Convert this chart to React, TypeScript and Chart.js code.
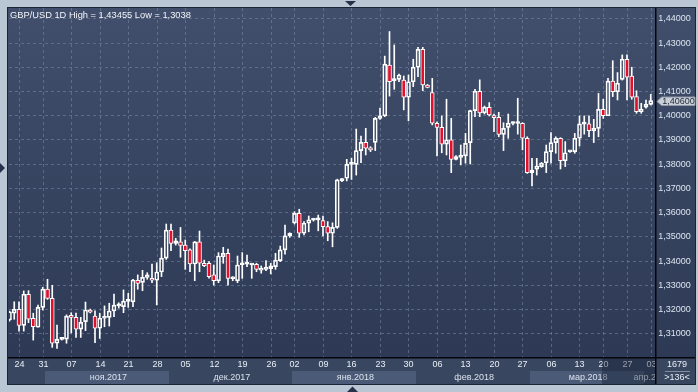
import React, { useEffect, useRef } from "react";
import { Chart, registerables } from "chart.js";

Chart.register(...registerables);

// ---- data (daily GBP/USD candles, left to right) ----
const opens = [
  1.3155, 1.3183, 1.3199, 1.3133, 1.3261, 1.3162, 1.3125, 1.3207, 1.3282, 1.3244,
  1.3059, 1.3075, 1.3076, 1.3174, 1.3166, 1.3117, 1.3148, 1.3196, 1.3171, 1.3121,
  1.3162, 1.3166, 1.3192, 1.3213, 1.3210, 1.3232, 1.3230, 1.3319, 1.3310, 1.3331,
  1.3327, 1.3319, 1.3353, 1.3410, 1.3526, 1.3471, 1.3477, 1.3464, 1.3444, 1.3386,
  1.3477, 1.3389, 1.3389, 1.3341, 1.3317, 1.3416, 1.3430, 1.3325, 1.3317, 1.3383,
  1.3385, 1.3382, 1.3385, 1.3361, 1.3364, 1.3367, 1.3375, 1.3400, 1.3444, 1.3502,
  1.3556, 1.3595, 1.3513, 1.3554, 1.3567, 1.3568, 1.3565, 1.3540, 1.3513, 1.3537,
  1.3730, 1.3740, 1.3797, 1.3797, 1.3854, 1.3888, 1.3864, 1.3888, 1.3987, 1.3997,
  1.4207, 1.4143, 1.4148, 1.4145, 1.4074, 1.4138, 1.4198, 1.4272, 1.4124, 1.4093,
  1.3967, 1.3950, 1.3881, 1.3898, 1.3818, 1.3826, 1.3832, 1.3887, 1.4019, 1.4099,
  1.4010, 1.4033, 1.3998, 1.3991, 1.3921, 1.3950, 1.3966, 1.3966, 1.3967, 1.3905,
  1.3763, 1.3777, 1.3788, 1.3804, 1.3850, 1.3887, 1.3905, 1.3812, 1.3849, 1.3850,
  1.3905, 1.3963, 1.3964, 1.3936, 1.3946, 1.4024, 1.3998, 1.4141, 1.4097, 1.4148,
  1.4231, 1.4162, 1.4077, 1.4015, 1.4033, 1.4045,
];
const highs = [
  1.3192, 1.3230, 1.3230, 1.3275, 1.3276, 1.3183, 1.3216, 1.3290, 1.3323, 1.3298,
  1.3134, 1.3080, 1.3176, 1.3185, 1.3183, 1.3166, 1.3229, 1.3200, 1.3193, 1.3183,
  1.3213, 1.3224, 1.3262, 1.3226, 1.3279, 1.3265, 1.3323, 1.3341, 1.3360, 1.3350,
  1.3386, 1.3391, 1.3452, 1.3551, 1.3551, 1.3492, 1.3537, 1.3485, 1.3449, 1.3479,
  1.3522, 1.3402, 1.3396, 1.3382, 1.3433, 1.3455, 1.3448, 1.3334, 1.3419, 1.3433,
  1.3423, 1.3386, 1.3389, 1.3378, 1.3400, 1.3389, 1.3430, 1.3460, 1.3547, 1.3515,
  1.3602, 1.3612, 1.3561, 1.3584, 1.3573, 1.3588, 1.3584, 1.3561, 1.3556, 1.3736,
  1.3740, 1.3818, 1.3823, 1.3943, 1.3914, 1.3946, 1.3870, 1.3991, 1.4029, 1.4244,
  1.43455, 1.4290, 1.4170, 1.4162, 1.4166, 1.4231, 1.4280, 1.4280, 1.4127, 1.4152,
  1.3973, 1.3997, 1.4066, 1.3987, 1.3833, 1.3877, 1.3925, 1.4021, 1.4107, 1.4146,
  1.4038, 1.4052, 1.4005, 1.4012, 1.3969, 1.4005, 1.3973, 1.4070, 1.3969, 1.3911,
  1.3822, 1.3822, 1.3805, 1.3877, 1.3928, 1.3911, 1.3907, 1.3891, 1.3853, 1.3925,
  1.3997, 1.3997, 1.3997, 1.3983, 1.4090, 1.4066, 1.4152, 1.4225, 1.4176, 1.4249,
  1.4249, 1.4198, 1.4101, 1.4049, 1.4063, 1.4086,
];
const lows = [
  1.3150, 1.3158, 1.3109, 1.3109, 1.3144, 1.3072, 1.3125, 1.3196, 1.3240, 1.3042,
  1.3038, 1.3072, 1.3059, 1.3102, 1.3083, 1.3083, 1.3111, 1.3184, 1.3061, 1.3079,
  1.3127, 1.3130, 1.3169, 1.3204, 1.3185, 1.3207, 1.3210, 1.3282, 1.3276, 1.3323,
  1.3309, 1.3217, 1.3334, 1.3405, 1.3441, 1.3464, 1.3414, 1.3364, 1.3354, 1.3317,
  1.3354, 1.3375, 1.3328, 1.3299, 1.3309, 1.3389, 1.3299, 1.3317, 1.3309, 1.3327,
  1.3375, 1.3327, 1.3354, 1.3348, 1.3358, 1.3345, 1.3364, 1.3396, 1.3427, 1.3496,
  1.3551, 1.3496, 1.3506, 1.3519, 1.3563, 1.3523, 1.3502, 1.3482, 1.3457, 1.3533,
  1.3726, 1.3729, 1.3735, 1.3753, 1.3804, 1.3836, 1.3850, 1.3854, 1.3983, 1.3994,
  1.4079, 1.4107, 1.4138, 1.4022, 1.3977, 1.4118, 1.4159, 1.4101, 1.4113, 1.3960,
  1.3832, 1.3845, 1.3836, 1.3763, 1.3816, 1.3795, 1.3802, 1.3799, 1.3994, 1.3994,
  1.4005, 1.3997, 1.3932, 1.3911, 1.3854, 1.3905, 1.3960, 1.3922, 1.3857, 1.3760,
  1.3708, 1.3753, 1.3785, 1.3763, 1.3802, 1.3843, 1.3778, 1.3788, 1.3847, 1.3843,
  1.3873, 1.3922, 1.3911, 1.3887, 1.3911, 1.3987, 1.3998, 1.4077, 1.4063, 1.4145,
  1.4063, 1.4066, 1.4008, 1.4008, 1.4029, 1.4042,
];
const closes = [
  1.3189, 1.3199, 1.3133, 1.3261, 1.3158, 1.3127, 1.3207, 1.3282, 1.3244, 1.3059,
  1.3075, 1.3077, 1.3171, 1.3166, 1.3117, 1.3145, 1.3196, 1.3187, 1.3121, 1.3162,
  1.3166, 1.3192, 1.3216, 1.3216, 1.3233, 1.3234, 1.3320, 1.3306, 1.3331, 1.3341,
  1.3319, 1.3353, 1.3410, 1.3526, 1.3471, 1.3482, 1.3463, 1.3441, 1.3386, 1.3477,
  1.3389, 1.3379, 1.3334, 1.3317, 1.3419, 1.3430, 1.3327, 1.3331, 1.3382, 1.3386,
  1.3387, 1.3385, 1.3364, 1.3367, 1.3368, 1.3378, 1.3402, 1.3444, 1.3502, 1.3513,
  1.3595, 1.3513, 1.3554, 1.3568, 1.3569, 1.3569, 1.3540, 1.3513, 1.3537, 1.3733,
  1.3732, 1.3797, 1.3799, 1.3854, 1.3888, 1.3864, 1.3857, 1.3987, 1.3997, 1.4211,
  1.4138, 1.4145, 1.4166, 1.4074, 1.4138, 1.4198, 1.4272, 1.4125, 1.4115, 1.3967,
  1.3950, 1.3881, 1.3898, 1.3818, 1.3829, 1.3836, 1.3884, 1.4019, 1.4099, 1.4010,
  1.4033, 1.4001, 1.3990, 1.3921, 1.3946, 1.3967, 1.3968, 1.3968, 1.3905, 1.3763,
  1.3774, 1.3790, 1.3802, 1.3850, 1.3887, 1.3905, 1.3812, 1.3845, 1.3851, 1.3905,
  1.3964, 1.3965, 1.3936, 1.3946, 1.4024, 1.3998, 1.4141, 1.4097, 1.4132, 1.4231,
  1.4157, 1.4074, 1.4015, 1.4024, 1.4045, 1.4060,
];

const dayTickBars = [2, 7, 13, 19, 25, 31, 37, 43, 49, 55, 60, 66, 72, 78, 84, 90, 96, 102, 108, 114, 120, 125, 130, 135];
const dayTickLabels = ["24", "31", "07", "14", "21", "28", "05", "12", "19", "26", "02", "09", "16", "23", "30", "06", "13", "20", "27", "06", "13", "20", "27", "03"];
const monthStartBars = [8, 34, 60, 86, 110, 134];
const monthLabels = ["ноя.2017", "дек.2017", "янв.2018", "фев.2018", "мар.2018", "апр.2018"];
const priceTicks = [1.31, 1.32, 1.33, 1.34, 1.35, 1.36, 1.37, 1.38, 1.39, 1.4, 1.41, 1.42, 1.43, 1.44];
const titleText = "GBP/USD 1D High = 1,43455 Low = 1,3038";
const lastPrice = 1.406;
const barsTotalText = "1679";
const barsVisibleText = ">136<";

const FONT = '"Liberation Sans", Arial, sans-serif';
const fmt = (v: number) => v.toFixed(5).replace(".", ",");

const chromePlugin = {
  id: "chrome",
  beforeDraw(chart: any) {
    const ctx = chart.ctx as CanvasRenderingContext2D;
    const { left, right, top, bottom } = chart.chartArea;
    const xs = chart.scales.x;
    const ys = chart.scales.y;
    const W = chart.width;
    const H = chart.height;
    ctx.save();
    // outer frame
    ctx.fillStyle = "#b9c6d4";
    ctx.fillRect(0, 0, W, H);
    // dark panel with vertical gradient
    const g = ctx.createLinearGradient(0, 7, 0, 385);
    g.addColorStop(0, "#414f6c");
    g.addColorStop(1, "#2c3853");
    ctx.fillStyle = g;
    ctx.fillRect(7, 7, 689, 378);
    ctx.strokeStyle = "#1c2537";
    ctx.lineWidth = 1;
    ctx.strokeRect(7.5, 7.5, 688, 377);

    // x-axis band
    ctx.fillStyle = "#38465f";
    ctx.fillRect(8, bottom + 1, W - 8 - 3, 384 - bottom - 1);
    // month boxes (alternating)
    for (let m = 0; m < monthStartBars.length; m++) {
      const x0 = Math.max(left, xs.getPixelForValue(monthStartBars[m] - 0.5));
      const x1 = m + 1 < monthStartBars.length ? xs.getPixelForValue(monthStartBars[m + 1] - 0.5) : right;
      if (m % 2 === 0) {
        ctx.fillStyle = "#4a5a77";
        ctx.fillRect(Math.round(x0), 371, Math.round(x1) - Math.round(x0), 13);
      }
    }

    // grid
    ctx.strokeStyle = "rgba(122,138,166,0.55)";
    ctx.lineWidth = 1;
    ctx.setLineDash([3, 3]);
    ctx.beginPath();
    for (const v of priceTicks) {
      const y = Math.round(ys.getPixelForValue(v)) + 0.5;
      ctx.moveTo(left, y);
      ctx.lineTo(right, y);
    }
    for (const b of dayTickBars) {
      const x = Math.round(xs.getPixelForValue(b)) + 0.5;
      ctx.moveTo(x, top);
      ctx.lineTo(x, bottom);
    }
    ctx.stroke();
    ctx.setLineDash([]);

    // x labels
    ctx.fillStyle = "#e8eef6";
    ctx.font = `9px ${FONT}`;
    ctx.textAlign = "center";
    ctx.textBaseline = "middle";
    dayTickBars.forEach((b, i) => {
      ctx.fillText(dayTickLabels[i], Math.round(xs.getPixelForValue(b)) + 0.5, 365);
    });
    // month labels
    ctx.save();
    ctx.beginPath();
    ctx.rect(8, bottom + 1, right - 8, 30);
    ctx.clip();
    ctx.fillStyle = "#d9e1ec";
    for (let m = 0; m < monthStartBars.length; m++) {
      const a = monthStartBars[m] - 0.5;
      const b = m + 1 < monthStartBars.length ? monthStartBars[m + 1] - 0.5 : a + 3;
      const cx = (xs.getPixelForValue(a) + xs.getPixelForValue(b)) / 2 + 1.5;
      ctx.fillText(monthLabels[m], cx, 377.5);
    }
    ctx.restore();
    // darker overlay near right end of the time axis
    ctx.fillStyle = "rgba(18,26,44,0.38)";
    const ox = Math.round(xs.getPixelForValue(124.7));
    ctx.fillRect(ox, bottom + 1, right - ox, 384 - bottom - 1);

    // y labels
    ctx.fillStyle = "#dbe5f1";
    ctx.textAlign = "center";
    for (const v of priceTicks) {
      ctx.fillText(fmt(v), 674.5, Math.round(ys.getPixelForValue(v)) + 0.5);
    }

    // bottom-right counters
    ctx.fillStyle = "#e8eef6";
    ctx.fillText(barsTotalText, 677, 365);
    ctx.fillText(barsVisibleText, 677, 377.5);
    ctx.strokeStyle = "rgba(200,210,225,0.5)";
    ctx.beginPath();
    ctx.moveTo(665, 371.5);
    ctx.lineTo(690, 371.5);
    ctx.stroke();
    ctx.restore();
  },
  afterDatasetsDraw(chart: any) {
    const ctx = chart.ctx as CanvasRenderingContext2D;
    const { right, bottom } = chart.chartArea;
    const ys = chart.scales.y;
    ctx.save();
    // axis lines
    ctx.fillStyle = "#05070c";
    ctx.fillRect(8, bottom, 687, 1.5);
    ctx.fillRect(right, 8, 1.5, 376);

    // title
    ctx.fillStyle = "#f2f5f9";
    ctx.font = `9.3px ${FONT}`;
    ctx.textAlign = "left";
    ctx.textBaseline = "alphabetic";
    ctx.fillText(titleText, 10, 17.5);

    // last price marker
    const py = Math.round(ys.getPixelForValue(lastPrice)) + 0.5;
    ctx.fillStyle = "#c9cfd7";
    ctx.strokeStyle = "#8e97a6";
    ctx.lineWidth = 1;
    ctx.beginPath();
    ctx.moveTo(657, py);
    ctx.lineTo(661.5, py - 4.5);
    ctx.lineTo(695, py - 4.5);
    ctx.lineTo(695, py + 4);
    ctx.lineTo(661.5, py + 4);
    ctx.closePath();
    ctx.fill();
    ctx.stroke();
    ctx.fillStyle = "#1f2636";
    ctx.font = `9px ${FONT}`;
    ctx.textAlign = "center";
    ctx.textBaseline = "middle";
    ctx.fillText(fmt(lastPrice), 678.5, py);

    // scroll markers
    ctx.fillStyle = "#27324a";
    ctx.beginPath();
    ctx.moveTo(345, 1);
    ctx.lineTo(356, 1);
    ctx.lineTo(350.5, 6);
    ctx.closePath();
    ctx.fill();
    ctx.beginPath();
    ctx.moveTo(347, 392);
    ctx.lineTo(358, 392);
    ctx.lineTo(352.5, 386.5);
    ctx.closePath();
    ctx.fill();
    ctx.beginPath();
    ctx.moveTo(0, 163);
    ctx.lineTo(0, 173);
    ctx.lineTo(5, 168);
    ctx.closePath();
    ctx.fill();
    ctx.restore();
  },
};

export default function App() {
  const canvasRef = useRef<HTMLCanvasElement | null>(null);

  useEffect(() => {
    const canvas = canvasRef.current;
    if (!canvas) return;
    const idx = opens.map((_, i) => i);
    const bodies = idx.map((i) => ({ x: i, y: [opens[i], closes[i]] }));
    const upper = idx.map((i) => ({ x: i, y: [Math.max(opens[i], closes[i]), highs[i]] }));
    const lower = idx.map((i) => ({ x: i, y: [lows[i], Math.min(opens[i], closes[i])] }));
    const bodyFill = idx.map((i) => (closes[i] < opens[i] ? "#e1112e" : "rgba(0,0,0,0)"));

    const chart = new Chart(canvas, {
      type: "bar",
      data: {
        datasets: [
          {
            label: "upper",
            data: upper as any,
            backgroundColor: "#ffffff",
            borderWidth: 0,
            barThickness: 1,
            grouped: false,
            clip: 0,
            order: 2,
          },
          {
            label: "lower",
            data: lower as any,
            backgroundColor: "#ffffff",
            borderWidth: 0,
            barThickness: 1,
            grouped: false,
            clip: 0,
            order: 2,
          },
          {
            label: "body",
            data: bodies as any,
            backgroundColor: bodyFill,
            borderColor: "#ffffff",
            borderWidth: 1,
            borderSkipped: false,
            barThickness: 4,
            minBarLength: 2,
            grouped: false,
            clip: 0,
            order: 1,
          },
        ] as any,
      },
      options: {
        responsive: false,
        maintainAspectRatio: false,
        devicePixelRatio: 1,
        animation: false,
        events: [],
        layout: { padding: { left: 9, top: 8, right: 43, bottom: 35 } },
        scales: {
          x: { type: "linear", display: false, min: -0.105, max: 135.895, offset: false },
          y: { type: "linear", display: false, min: 1.30022, max: 1.44425 },
        },
        plugins: {
          legend: { display: false },
          tooltip: { enabled: false },
        },
      } as any,
      plugins: [chromePlugin],
    });
    return () => chart.destroy();
  }, []);

  return (
    <div style={{ position: "fixed", left: 0, top: 0, width: 698, height: 392, overflow: "hidden" }}>
      <canvas ref={canvasRef} width={698} height={392} style={{ display: "block", width: 698, height: 392 }} />
    </div>
  );
}
